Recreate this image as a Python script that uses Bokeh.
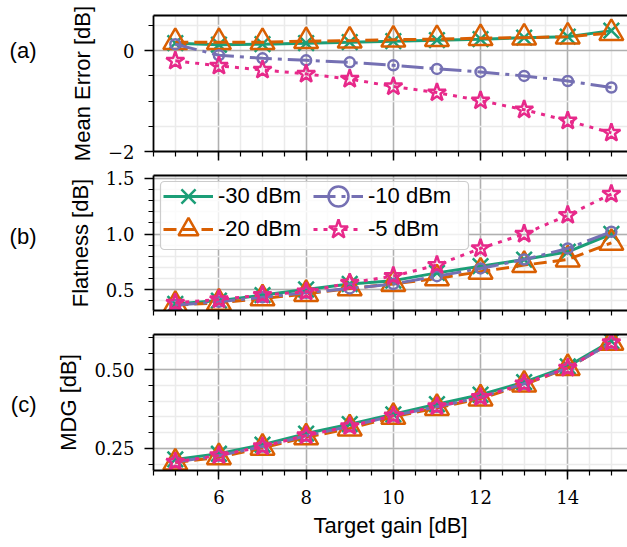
import numpy as np
from bokeh.plotting import figure
from bokeh.layouts import column
from bokeh.models import (Range1d, FixedTicker, LinearAxis, Legend, LegendItem,
                          BoxAnnotation, CustomLabelingPolicy)
from bokeh.embed import file_html
from bokeh.resources import INLINE

# ---------------- data ----------------
gain = [5, 6, 7, 8, 9, 10, 11, 12, 13, 14, 15]
series_labels = ["-30 dBm", "-20 dBm", "-10 dBm", "-5 dBm"]

mean_err_m30 = [0.15, 0.12, 0.13, 0.15, 0.17, 0.19, 0.21, 0.23, 0.26, 0.28, 0.40]
mean_err_m20 = [0.17, 0.17, 0.17, 0.19, 0.20, 0.22, 0.23, 0.25, 0.26, 0.28, 0.35]
mean_err_m10 = [0.13, -0.09, -0.15, -0.19, -0.23, -0.29, -0.36, -0.42, -0.50, -0.60, -0.73]
mean_err_m5 = [-0.20, -0.30, -0.38, -0.46, -0.56, -0.71, -0.83, -0.99, -1.17, -1.39, -1.63]

flat_m30 = [0.37, 0.40, 0.45, 0.50, 0.55, 0.58, 0.65, 0.71, 0.77, 0.84, 1.00]
flat_m20 = [0.36, 0.38, 0.42, 0.46, 0.51, 0.55, 0.60, 0.66, 0.72, 0.77, 0.92]
flat_m10 = [0.36, 0.39, 0.43, 0.47, 0.51, 0.55, 0.62, 0.69, 0.77, 0.87, 1.02]
flat_m5 = [0.38, 0.41, 0.45, 0.48, 0.56, 0.62, 0.72, 0.87, 1.00, 1.17, 1.36]

mdg_m30 = [0.215, 0.233, 0.262, 0.297, 0.327, 0.358, 0.390, 0.420, 0.460, 0.510, 0.590]
mdg_m20 = [0.205, 0.222, 0.252, 0.285, 0.313, 0.350, 0.378, 0.408, 0.452, 0.505, 0.585]
mdg_m10 = [0.207, 0.227, 0.256, 0.290, 0.320, 0.354, 0.382, 0.412, 0.455, 0.505, 0.585]
mdg_m5 = [0.207, 0.228, 0.256, 0.291, 0.320, 0.354, 0.383, 0.412, 0.455, 0.505, 0.586]

x_tick_vals = [6, 8, 10, 12, 14]
x_tick_labels = ["6", "8", "10", "12", "14"]

# ---------------- styles ----------------
colors = ["#1b9e77", "#d95f02", "#7570b3", "#e7298a"]
markers = ["x", "triangle", "circle", "star"]
msizes = [22, 24, 10, 19]
dashes = ["solid", "13 6", "22 6 4 6", "4 6"]

SANS = "Liberation Sans"
SERIF = "DejaVu Serif"
MAJ_GRID = "#b0b0b0"
MIN_GRID = "#ebebeb"
XMIN, XMAX = 4.5, 15.37

NO_LABELS = CustomLabelingPolicy(code="""
for (const i of [...indices]) { indices.unset(i) }
return indices
""")


def make_panel(ys, yrange, ymajor, yminor, ylabels, ylabel, panel_txt, panel_y,
               panel_standoff, frame_h, top, bottom, show_x):
    p = figure(frame_width=474, frame_height=frame_h,
               x_range=Range1d(XMIN, XMAX), y_range=Range1d(*yrange),
               output_backend="svg", toolbar_location=None,
               min_border_left=153, min_border_right=0,
               min_border_top=top, min_border_bottom=bottom,
               outline_line_color=None, background_fill_color="white",
               border_fill_color="white")

    xt = FixedTicker(ticks=x_tick_vals, minor_ticks=list(np.arange(4.5, 15.51, 0.5)))
    yt = FixedTicker(ticks=ymajor, minor_ticks=yminor)

    # grids
    for g, t in ((p.xgrid, xt), (p.ygrid, yt)):
        g.ticker = t
        g.grid_line_color = MAJ_GRID
        g.grid_line_width = 1.5
        g.minor_grid_line_color = MIN_GRID
        g.minor_grid_line_width = 1.5

    # x axis
    ax = p.xaxis[0]
    ax.ticker = xt
    ax.axis_line_width = 1.8
    ax.major_tick_line_width = 1.5
    ax.minor_tick_line_width = 1.2
    ax.major_tick_out = 9
    ax.major_tick_in = 0
    ax.minor_tick_out = 5
    ax.minor_tick_in = 0
    if show_x:
        ax.major_label_overrides = dict(zip(x_tick_vals, x_tick_labels))
        ax.major_label_text_font = SERIF
        ax.major_label_text_font_size = "18px"
        ax.major_label_text_color = "black"
        ax.major_label_standoff = 10
        ax.axis_label = "Target gain [dB]"
        ax.axis_label_text_font = SANS
        ax.axis_label_text_font_size = "22px"
        ax.axis_label_text_font_style = "normal"
        ax.axis_label_text_color = "black"
        ax.axis_label_standoff = 6
    else:
        ax.major_label_policy = NO_LABELS
        ax.major_label_text_font_size = "2px"
        ax.major_label_standoff = 0

    # y axis
    ay = p.yaxis[0]
    ay.ticker = yt
    ay.major_label_overrides = dict(zip(ymajor, ylabels))
    ay.axis_line_width = 1.8
    ay.major_tick_line_width = 1.5
    ay.minor_tick_line_width = 1.2
    ay.major_tick_out = 9
    ay.major_tick_in = 0
    ay.minor_tick_out = 5
    ay.minor_tick_in = 0
    ay.major_label_text_font = SERIF
    ay.major_label_text_font_size = "18px"
    ay.major_label_text_color = "black"
    ay.major_label_standoff = 10
    ay.axis_label = ylabel
    ay.axis_label_text_font = SANS
    ay.axis_label_text_font_size = "22px"
    ay.axis_label_text_font_style = "normal"
    ay.axis_label_text_color = "black"
    ay.axis_label_standoff = 10

    # panel tag "(a)" etc. as a bare outer left axis
    tag_ax = LinearAxis(ticker=FixedTicker(ticks=[panel_y], minor_ticks=[]),
                        major_label_overrides={panel_y: panel_txt},
                        axis_line_color=None, major_tick_line_color=None,
                        minor_tick_line_color=None,
                        major_label_standoff=panel_standoff,
                        major_label_text_font=SANS, major_label_text_font_size="22px",
                        major_label_text_color="black")
    p.add_layout(tag_ax, "left")

    # top frame line
    top_ax = LinearAxis(ticker=FixedTicker(ticks=[], minor_ticks=[]),
                        major_label_text_font_size="2px",
                        major_tick_out=0, minor_tick_out=0, major_label_standoff=0,
                        axis_line_width=1.8)
    p.add_layout(top_ax, "above")

    rends = []
    for y, c, m, s, d in zip(ys, colors, markers, msizes, dashes):
        rl = p.line(gain, y, line_color=c, line_width=3, line_dash=d, line_cap="butt")
        rm = p.scatter(gain, y, marker=m, size=s, line_color=c, line_width=2.5,
                       fill_color=None)
        rends.append((rl, rm))
    return p, rends


pa, _ = make_panel([mean_err_m30, mean_err_m20, mean_err_m10, mean_err_m5],
                   (-2.0, 0.70), [-2, 0], [-1.5, -1.0, -0.5, 0.5],
                   ["\u22122", "0"], "Mean Error [dB]", "(a)", 0.0, 24,
                   136, 15, 10, False)

pb, rb = make_panel([flat_m30, flat_m20, flat_m10, flat_m5],
                    (0.311, 1.527), [0.5, 1.0, 1.5],
                    [round(v, 2) for v in np.arange(0.4, 1.51, 0.1)],
                    ["0.5", "1.0", "1.5"], "Flatness [dB]", "(b)", 0.98, 22,
                    135, 11, 12, False)

pc, _ = make_panel([mdg_m30, mdg_m20, mdg_m10, mdg_m5],
                   (0.180, 0.611), [0.25, 0.5],
                   [round(v, 3) for v in np.arange(0.2, 0.61, 0.05)],
                   ["0.25", "0.50"], "MDG [dB]", "(c)", 0.389, 11,
                   136, 11, 81, True)

# legend frame
box_kw = dict(left=7, right=315, top=129, bottom=61,
              left_units="screen", right_units="screen",
              top_units="screen", bottom_units="screen",
              fill_color="white", fill_alpha=0.8,
              line_color="#cccccc", line_width=1.2, line_alpha=1.0)
if "border_radius" in BoxAnnotation.properties():
    box_kw["border_radius"] = 4
if "editable" in BoxAnnotation.properties():
    box_kw["editable"] = False
pb.add_layout(BoxAnnotation(**box_kw))

legend_locs = [(10, 89), (10, 56), (160, 89), (160, 56)]
for i, loc in enumerate(legend_locs):
    lg = Legend(items=[LegendItem(label=series_labels[i], renderers=list(rb[i]))],
                location=loc, orientation="vertical",
                glyph_width=50, glyph_height=50, spacing=0, padding=0,
                label_standoff=5, label_text_font=SANS, label_text_font_size="22px",
                label_text_color="black", background_fill_alpha=0,
                border_line_color=None, margin=0)
    pb.add_layout(lg)

layout = column(pa, pb, pc, spacing=0)
open("out.html", "w").write(file_html(layout, INLINE))
